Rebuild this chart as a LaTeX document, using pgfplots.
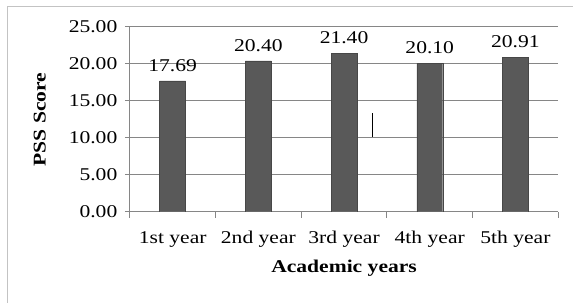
\documentclass[border=0pt]{standalone}
\usepackage{pgfplots}
\pgfplotsset{compat=1.18}
\usepackage{fontspec}
\setmainfont{Liberation Serif}[FakeStretch=1.2]
\definecolor{barc}{RGB}{89,89,89}
\definecolor{gridc}{RGB}{134,134,134}
\definecolor{framec}{RGB}{195,195,195}
\begin{document}
\begin{tikzpicture}[x=1pt,y=1pt]
\fill[white] (0,0) rectangle (574,303);
\draw[framec,line width=1.5pt] (7.5,0) -- (7.5,296.5) -- (574,296.5);
\begin{axis}[
  at={(130pt,91pt)}, anchor=south west,
  width=429pt, height=185pt, scale only axis,
  xmin=-0.5, xmax=4.5, ymin=0, ymax=25,
  axis lines*=left,
  axis line style={gridc, line width=1pt},
  ybar, bar width=26pt,
  xtick={0,1,2,3,4},
  xticklabels={1st year,2nd year,3rd year,4th year,5th year},
  minor xtick={-0.5,0.5,1.5,2.5,3.5,4.5},
  ytick={0,5,10,15,20,25},
  yticklabel={\pgfmathprintnumber[fixed,fixed zerofill,precision=2]{\tick}},
  /pgf/number format/assume math mode=true,
  tick align=outside,
  major tick length=5pt,
  minor tick length=6pt,
  xtick style={draw=none},
  minor x tick style={draw=gridc, line width=1pt},
  ytick style={gridc, line width=1pt},
  ymajorgrids,
  major grid style={gridc, line width=1pt},
  tick label style={font=\fontsize{18}{20}\selectfont, black},
  yticklabel style={xshift=-4pt},
  xticklabel style={yshift=-11pt},
  xlabel={\textbf{Academic years}},
  ylabel={\textbf{PSS Score}},
  label style={font=\fontsize{18}{20}\selectfont},
  xlabel style={at={(axis description cs:0.5,-0.303)}, anchor=center},
  ylabel style={at={(axis description cs:-0.21,0.5)}, anchor=center},
  nodes near coords,
  nodes near coords style={font=\fontsize{18}{20}\selectfont, black, anchor=south, yshift=6pt,
    /pgf/number format/.cd, fixed, fixed zerofill, precision=2, assume math mode=true},
]
\addplot[fill=barc, draw=barc!80!black] coordinates {(0,17.69) (1,20.40) (2,21.40) (3,20.10) (4,20.91)};
\draw[black, line width=0.8pt] (axis cs:2.33,10.1) -- (axis cs:2.33,13.4);
\end{axis}
\end{tikzpicture}
\end{document}
